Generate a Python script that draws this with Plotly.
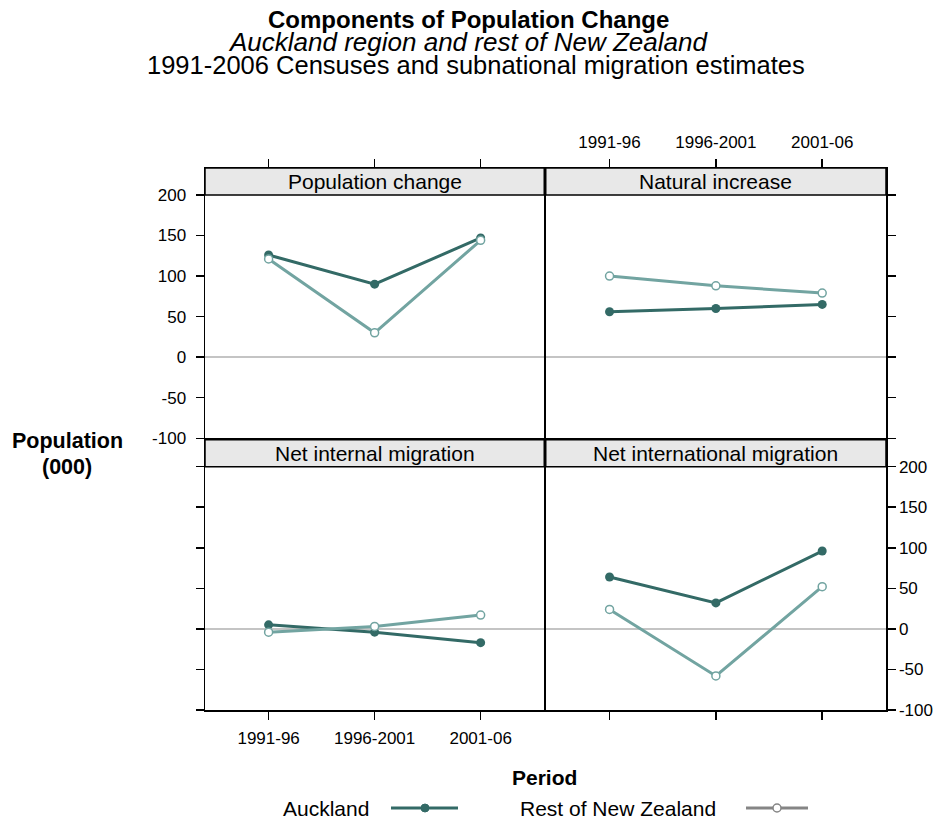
import plotly.graph_objects as go

# ---------------- data ----------------
periods = ["1991-96", "1996-2001", "2001-06"]
components = ["Population change", "Natural increase",
              "Net internal migration", "Net international migration"]
auckland_pop_change = [126, 90, 147]
rest_pop_change = [121, 30, 144]
auckland_natural = [56, 60, 65]
rest_natural = [100, 88, 79]
auckland_internal = [5, -4, -17]
rest_internal = [-4, 3, 17]
auckland_international = [64, 32, 96]
rest_international = [24, -58, 52]
y_ticks = [-100, -50, 0, 50, 100, 150, 200]
y_tick_labels = ["-100", "-50", "0", "50", "100", "150", "200"]

auckland_series = [auckland_pop_change, auckland_natural, auckland_internal, auckland_international]
rest_series = [rest_pop_change, rest_natural, rest_internal, rest_international]

# ---------------- style ----------------
W, H = 937, 821
AUCK = "#336a66"
REST = "#72a4a1"
FONT = "Liberation Sans, Arial, sans-serif"
YMIN, YMAX_PLOT = -100, 200
STRIP_UNITS = 33.2
YMAX = YMAX_PLOT + STRIP_UNITS
LW = 1.5
h = LW / 2


def fx(p):
    return p / W


def fy(p):
    return 1 - p / H


# panel pixel geometry (left, right, top(strip top), bottom)
geo = [
    (205, 545 - h, 168, 439 - h),
    (545 + h, 886, 168, 439 - h),
    (205, 545 - h, 439 + h, 710),
    (545 + h, 886, 439 + h, 710),
]
# x side, show x labels, y side, show y labels, y label standoff
axis_cfg = [
    ("top", False, "left", True, 6),
    ("top", True, "right", False, 0),
    ("bottom", True, "left", False, 0),
    ("bottom", False, "right", True, 0),
]

fig = go.Figure()
shapes = []
annotations = []

for i in range(4):
    n = i + 1
    xs = "x" if n == 1 else f"x{n}"
    ys = "y" if n == 1 else f"y{n}"
    fig.add_trace(go.Scatter(
        x=periods, y=auckland_series[i], xaxis=xs, yaxis=ys,
        mode="lines+markers", name="Auckland", showlegend=False,
        line=dict(color=AUCK, width=3),
        marker=dict(symbol="circle", size=9, color=AUCK),
        hoverinfo="skip",
    ))
    fig.add_trace(go.Scatter(
        x=periods, y=rest_series[i], xaxis=xs, yaxis=ys,
        mode="lines+markers", name="Rest of New Zealand", showlegend=False,
        line=dict(color=REST, width=3),
        marker=dict(symbol="circle", size=8, color="white",
                    line=dict(color=REST, width=1.5)),
        hoverinfo="skip",
    ))
    l, r, t, b = geo[i]
    xside, xlab, yside, ylab, ystand = axis_cfg[i]
    xkey = "xaxis" if n == 1 else f"xaxis{n}"
    ykey = "yaxis" if n == 1 else f"yaxis{n}"
    fig.layout[xkey] = dict(
        domain=[fx(l), fx(r)], anchor=ys, side=xside,
        type="category", range=[-0.6, 2.6], automargin=False,
        showline=True, linecolor="black", linewidth=LW, mirror=True,
        ticks="outside", ticklen=8, tickwidth=1.5, tickcolor="black",
        showticklabels=xlab, showgrid=False, zeroline=False,
        tickfont=dict(family=FONT, size=17, color="black"),
        ticklabelstandoff=4,
    )
    fig.layout[ykey] = dict(
        domain=[fy(b), fy(t)], anchor=xs, side=yside, automargin=False,
        range=[YMIN, YMAX], tickvals=y_ticks, ticktext=y_tick_labels,
        showline=True, linecolor="black", linewidth=LW, mirror=True,
        ticks="outside", ticklen=8, tickwidth=1.5, tickcolor="black",
        showticklabels=ylab, showgrid=False,
        zeroline=True, zerolinecolor="#c4c4c4", zerolinewidth=1.5,
        tickfont=dict(family=FONT, size=17, color="black"),
        ticklabelstandoff=ystand,
    )
    # strip
    shapes.append(dict(
        type="rect", xref=f"{xs} domain", yref=ys,
        x0=0, x1=1, y0=YMAX_PLOT, y1=YMAX,
        fillcolor="#e8e8e8", line=dict(color="black", width=1.5), layer="below",
    ))
    annotations.append(dict(
        text=components[i], xref=f"{xs} domain", yref=ys,
        x=0.5, y=YMAX_PLOT + STRIP_UNITS / 2, showarrow=False,
        xanchor="center", yanchor="middle",
        font=dict(family=FONT, size=21, color="black"),
    ))

# titles and axis titles
annotations += [
    dict(text="<b>Components of Population Change</b>", x=fx(468), y=fy(19),
         font=dict(family=FONT, size=24, color="black")),
    dict(text="<i>Auckland region and rest of New Zealand</i>", x=fx(468), y=fy(42),
         font=dict(family=FONT, size=26, color="black")),
    dict(text="1991-2006 Censuses and subnational migration estimates", x=fx(476), y=fy(65),
         font=dict(family=FONT, size=25.5, color="black")),
    dict(text="<b>Population</b>", x=fx(67), y=fy(441),
         font=dict(family=FONT, size=21.5, color="black")),
    dict(text="<b>(000)</b>", x=fx(67), y=fy(467),
         font=dict(family=FONT, size=21.5, color="black")),
    dict(text="<b>Period</b>", x=fx(544), y=fy(777),
         font=dict(family=FONT, size=21, color="black")),
    dict(text="Auckland", x=fx(326), y=fy(808),
         font=dict(family=FONT, size=21, color="black")),
    dict(text="Rest of New Zealand", x=fx(618), y=fy(808),
         font=dict(family=FONT, size=21, color="black")),
]
for a in annotations[-8:]:
    a.update(xref="paper", yref="paper", showarrow=False,
             xanchor="center", yanchor="middle")

# legend keys (decoration)
shapes += [
    dict(type="line", xref="paper", yref="paper", x0=fx(391), x1=fx(458),
         y0=fy(808), y1=fy(808), line=dict(color=AUCK, width=3)),
    dict(type="circle", xref="paper", yref="paper", x0=fx(421), x1=fx(429),
         y0=fy(812), y1=fy(804), fillcolor=AUCK, line=dict(color=AUCK, width=1)),
    dict(type="line", xref="paper", yref="paper", x0=fx(746), x1=fx(808),
         y0=fy(808), y1=fy(808), line=dict(color="#858585", width=3)),
    dict(type="circle", xref="paper", yref="paper", x0=fx(773), x1=fx(781),
         y0=fy(812), y1=fy(804), fillcolor="white", line=dict(color="#858585", width=1.5)),
]

fig.update_layout(
    width=W, height=H, margin=dict(l=0, r=0, t=0, b=0, pad=0, autoexpand=False),
    paper_bgcolor="white", plot_bgcolor="white", hovermode=False,
    shapes=shapes, annotations=annotations, showlegend=False,
)

fig.write_html(
    "out.html",
    config={"displayModeBar": False, "staticPlot": True},
    post_script="document.documentElement.style.overflow='hidden';"
                "document.body.style.margin='0px';"
                "document.body.style.overflow='hidden';",
)
